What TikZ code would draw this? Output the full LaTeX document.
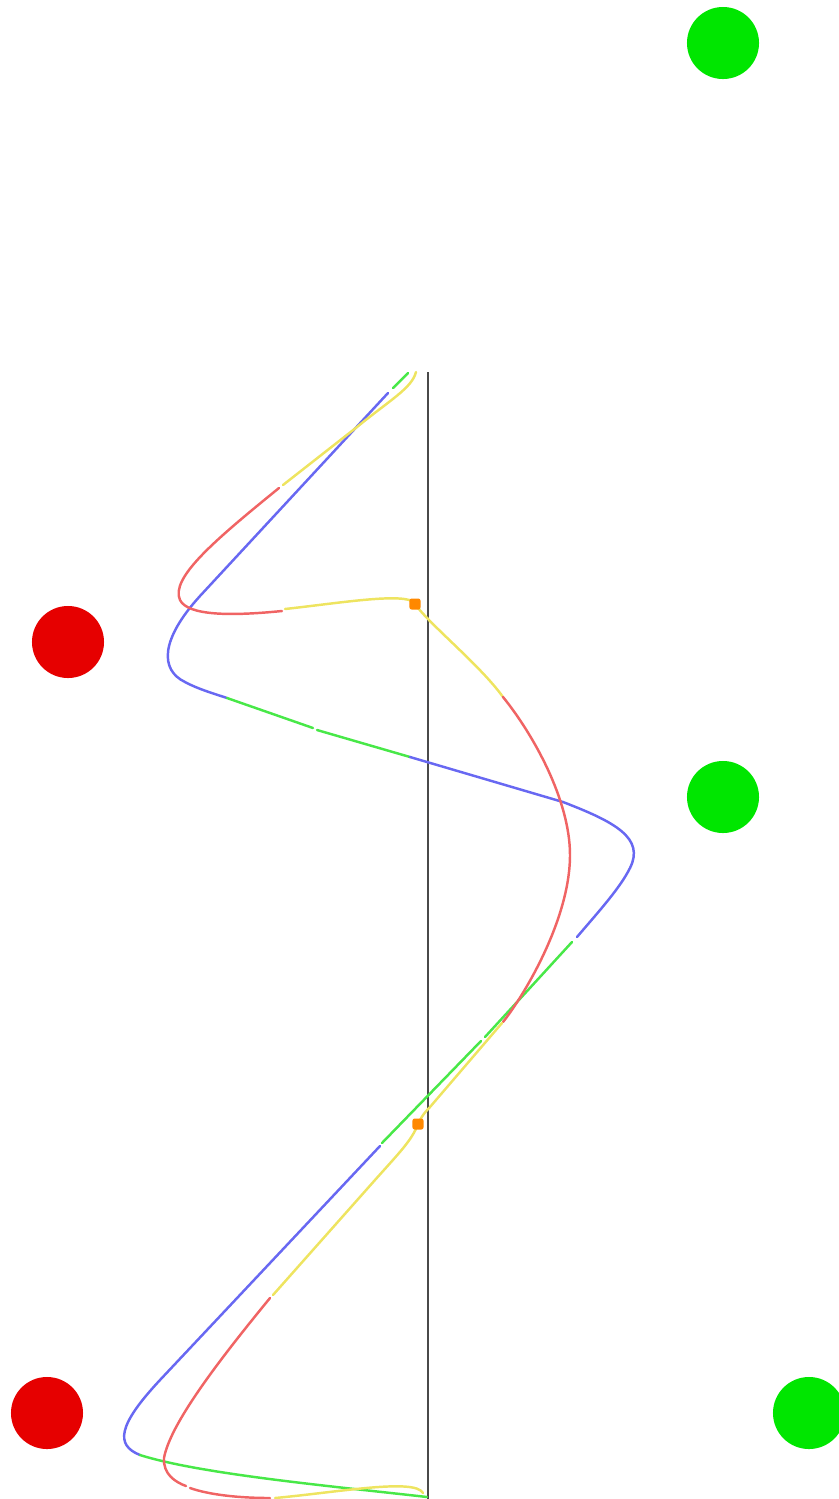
\documentclass[tikz,border=0pt]{standalone}
\usepackage{xcolor}
\usepackage{tikz}
\usetikzlibrary{positioning}
\definecolor{ballGreen}{HTML}{00E600}
\definecolor{ballRed}{HTML}{E60000}
\definecolor{waveBlue}{HTML}{6868F2}
\definecolor{waveGreen}{HTML}{48E848}
\definecolor{pathRed}{HTML}{F06464}
\definecolor{pathYellow}{HTML}{EEE460}
\definecolor{markOrange}{HTML}{FF8800}
\definecolor{axisGray}{HTML}{4A4A4A}

\begin{document}
\begin{tikzpicture}[x=0.01cm,y=-0.01cm,
    greenball/.style={circle,fill=ballGreen,inner sep=0pt,minimum size=0.72cm},
    redball/.style={circle,fill=ballRed,inner sep=0pt,minimum size=0.72cm},
    orangesq/.style={rectangle,rounded corners=0.6pt,fill=markOrange,inner sep=0pt,minimum size=0.11cm},
    wave/.style={line width=0.7pt,line cap=round}]
    \useasboundingbox (0,0) rectangle (838,1499);
    % balls
    \node[greenball] (g1) at (723,43) {};
    \node[redball] (r1) at (68,642) {};
    \node[greenball] (g2) at (723,797) {};
    \node[redball] (r2) at (47,1413) {};
    \node[greenball] (g3) at (809,1413) {};
    % vertical axis
    \coordinate (top) at (428,372);
    \coordinate (bot) at (428,1499);
    \draw[axisGray,line width=0.8pt] (top) -- (bot);
    % blue/green wave
    \draw[wave,waveGreen] (408,373) -- (393,388);
    \draw[wave,waveBlue] (388,393) -- (200,596) .. controls (160,640) and (160,670) .. (185,682) .. controls (198,689) and (212,693) .. (227,698);
    \draw[wave,waveGreen] (227,698) -- (313,728);
    \draw[wave,waveGreen] (317,730) -- (410,757);
    \draw[wave,waveBlue] (410,757) -- (563,802) .. controls (615,822) and (645,838) .. (630,868) .. controls (620,888) and (600,910) .. (577,937);
    \draw[wave,waveGreen] (572,942) -- (485,1037);
    \draw[wave,waveGreen] (481,1041) -- (382,1143);
    \draw[wave,waveBlue] (380,1146) -- (160,1380) .. controls (118,1425) and (115,1445) .. (140,1455);
    \draw[wave,waveGreen] (140,1455) .. controls (200,1474) and (330,1486) .. (427,1497);
    % red/yellow path
    \draw[wave,pathYellow] (416,372) .. controls (412,388) and (390,400) .. (357,427) -- (283,485);
    \draw[wave,pathRed] (279,488) .. controls (215,540) and (170,578) .. (180,600) .. controls (188,616) and (232,616) .. (282,611);
    \draw[wave,pathYellow] (285,609) .. controls (340,603) and (405,592) .. (415,603);
    \draw[wave,pathYellow] (415,604) .. controls (430,625) and (480,665) .. (503,697);
    \draw[wave,pathRed] (503,697) .. controls (533,734) and (570,800) .. (570,855) .. controls (570,920) and (523,997) .. (503,1022);
    \draw[wave,pathYellow] (502,1023) -- (430,1107) .. controls (422,1115) and (420,1120) .. (418,1124) .. controls (412,1140) and (400,1152) .. (375,1180) -- (273,1295);
    \draw[wave,pathRed] (270,1298) .. controls (215,1365) and (170,1425) .. (164,1458) .. controls (163,1474) and (175,1482) .. (186,1486);
    \draw[wave,pathRed] (190,1488) .. controls (210,1495) and (240,1498) .. (270,1498);
    \draw[wave,pathYellow] (275,1498) .. controls (340,1492) and (415,1478) .. (423,1493);
    % markers
    \node[orangesq] (m1) at (415,604) {};
    \node[orangesq] (m2) at (418,1124) {};
\end{tikzpicture}
\end{document}
